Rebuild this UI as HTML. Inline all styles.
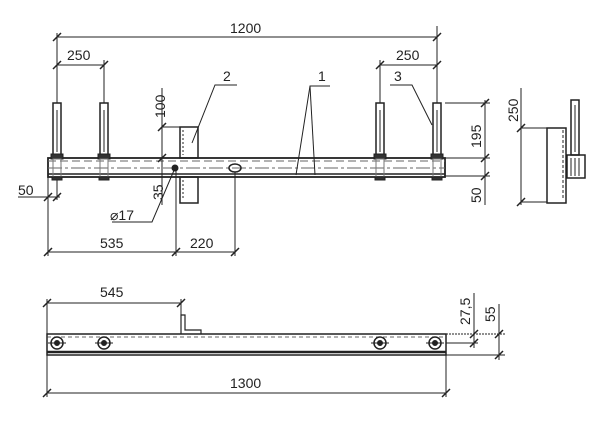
<!DOCTYPE html>
<html><head><style>
html,body{margin:0;padding:0;background:#fff}
svg{display:block}
text{font-family:"Liberation Sans",sans-serif;font-size:14px;fill:#222}
</style></head><body>
<svg width="600" height="430" viewBox="0 0 600 430" xmlns="http://www.w3.org/2000/svg">
<g stroke="#222" stroke-width="1" fill="none">
<!-- top view beam -->
<rect x="48" y="158" width="397" height="19" stroke-width="1.8"/>
<line x1="48" y1="161" x2="445" y2="161" stroke-dasharray="8,4" stroke="#666"/>
<line x1="48" y1="168" x2="445" y2="168" stroke-dasharray="14,3,3,3" stroke="#666"/>
<line x1="48" y1="174" x2="445" y2="174" stroke-width="1.5"/>
<!-- bolts -->
<g id="bolt">
<rect x="53" y="103" width="8" height="52" stroke-width="1.5"/>
<line x1="57" y1="110" x2="57" y2="152"/>
<rect x="51" y="154" width="12" height="5" fill="#333"/>
<rect x="53" y="159" width="8" height="18" stroke="#777"/>
<rect x="52" y="177" width="10" height="3" fill="#333"/>
</g>
<use href="#bolt" x="47"/>
<use href="#bolt" x="323"/>
<use href="#bolt" x="380"/>
<!-- plate -->
<rect x="180" y="127" width="18" height="31" stroke-width="1.5"/>
<rect x="180" y="177" width="18" height="26" stroke-width="1.5"/>
<line x1="183" y1="130" x2="183" y2="155" stroke-dasharray="2,2"/>
<line x1="183" y1="180" x2="183" y2="200" stroke-dasharray="2,2"/>
<ellipse cx="235" cy="168" rx="6" ry="4" stroke-width="1.5"/>
<circle cx="175" cy="168" r="3" fill="#222"/>
<!-- dims top -->
<line x1="57" y1="37" x2="437" y2="37"/>
<line x1="57" y1="33" x2="57" y2="103"/>
<line x1="437" y1="26" x2="437" y2="103"/>
<line x1="57" y1="65" x2="104" y2="65"/>
<line x1="104" y1="60" x2="104" y2="103"/>
<line x1="380" y1="65" x2="437" y2="65"/>
<line x1="380" y1="60" x2="380" y2="103"/>
<!-- right dims -->
<line x1="445" y1="103" x2="490" y2="103"/>
<line x1="445" y1="158" x2="490" y2="158"/>
<line x1="445" y1="176" x2="490" y2="176"/>
<line x1="485" y1="100" x2="485" y2="205"/>
<!-- 100 / 35 -->
<line x1="162" y1="88" x2="162" y2="205"/>
<line x1="162" y1="127" x2="180" y2="127"/>
<!-- bottom dims top view -->
<line x1="48" y1="177" x2="48" y2="256"/>
<line x1="176" y1="168" x2="176" y2="256"/>
<line x1="235" y1="172" x2="235" y2="256"/>
<line x1="48" y1="252" x2="235" y2="252"/>
<line x1="18" y1="197" x2="60" y2="197"/>
<line x1="57" y1="180" x2="57" y2="200"/>
<!-- leaders -->
<polyline points="237,85 215,85 192,143"/>
<polyline points="330,86 310,86 296,175"/>
<line x1="310" y1="86" x2="315" y2="175"/>
<polyline points="390,85 412,85 432,125"/>
<polyline points="112,222 152,222 175,168"/>
<!-- side view -->
<rect x="547" y="128" width="19" height="75" stroke-width="1.5"/>
<line x1="563" y1="130" x2="563" y2="200" stroke-dasharray="3,2"/>
<line x1="521" y1="88" x2="521" y2="205"/>
<line x1="521" y1="128" x2="547" y2="128"/>
<line x1="521" y1="202" x2="547" y2="202"/>
<rect x="571" y="100" width="8" height="55" stroke-width="1.5"/>
<line x1="575" y1="105" x2="575" y2="152"/>
<rect x="567" y="155" width="18" height="23" stroke-width="1.5"/>
<line x1="571" y1="158" x2="571" y2="176"/><line x1="575" y1="158" x2="575" y2="176"/><line x1="579" y1="158" x2="579" y2="176"/>
<!-- bottom view -->
<rect x="47" y="334" width="399" height="21" stroke-width="1.5"/>
<line x1="47" y1="337" x2="446" y2="337" stroke-dasharray="4,3" stroke="#666"/>
<line x1="47" y1="352" x2="446" y2="352" stroke-width="2.5"/>
<g id="c"><circle cx="57" cy="343" r="6" stroke-width="1.5"/><circle cx="57" cy="343" r="2.5" fill="#222"/><line x1="48" y1="343" x2="66" y2="343"/></g>
<use href="#c" x="47"/><use href="#c" x="323"/><use href="#c" x="378"/>
<polyline points="181,334 181,315 185,315 185,330 201,330 201,334" stroke-width="1.2"/>
<line x1="47" y1="299" x2="47" y2="397"/>
<line x1="181" y1="299" x2="181" y2="315"/>
<line x1="47" y1="303" x2="181" y2="303"/>
<line x1="446" y1="355" x2="446" y2="397"/>
<line x1="47" y1="393" x2="446" y2="393"/>
<line x1="446" y1="334" x2="505" y2="334" stroke-dasharray="2,1"/>
<line x1="446" y1="343" x2="478" y2="343"/>
<line x1="446" y1="355" x2="505" y2="355"/>
<line x1="474" y1="293" x2="474" y2="348"/>
<line x1="499" y1="304" x2="499" y2="360"/>
</g>
<!-- ticks -->
<g stroke="#222" stroke-width="1.5">
<path d="M53,41 L61,33 M433,41 L441,33 M53,69 L61,61 M100,69 L108,61 M376,69 L384,61 M433,69 L441,61 M481,107 L489,99 M481,162 L489,154 M481,180 L489,172 M158,131 L166,123 M158,162 L166,154 M44,256 L52,248 M172,256 L180,248 M231,256 L239,248 M44,201 L52,193 M53,201 L61,193 M517,132 L525,124 M517,206 L525,198 M43,307 L51,299 M177,307 L185,299 M43,397 L51,389 M442,397 L450,389 M470,338 L478,330 M470,347 L478,339 M495,338 L503,330 M495,359 L503,351"/>
</g>
<text x="230" y="33">1200</text>
<text x="67" y="60">250</text>
<text x="396" y="60">250</text>
<text x="223" y="81">2</text>
<text x="318" y="81">1</text>
<text x="394" y="81">3</text>
<text x="18" y="195">50</text>
<text x="100" y="248">535</text>
<text x="190" y="248">220</text>
<text x="110" y="220">⌀17</text>
<text x="0" y="0" transform="translate(165,118) rotate(-90)">100</text>
<text x="0" y="0" transform="translate(163,200) rotate(-90)">35</text>
<text x="0" y="0" transform="translate(481,148) rotate(-90)">195</text>
<text x="0" y="0" transform="translate(481,203) rotate(-90)">50</text>
<text x="0" y="0" transform="translate(518,122) rotate(-90)">250</text>
<text x="100" y="297">545</text>
<text x="230" y="388">1300</text>
<text x="0" y="0" transform="translate(470,325) rotate(-90)">27,5</text>
<text x="0" y="0" transform="translate(495,322) rotate(-90)">55</text>
</svg>
</body></html>
